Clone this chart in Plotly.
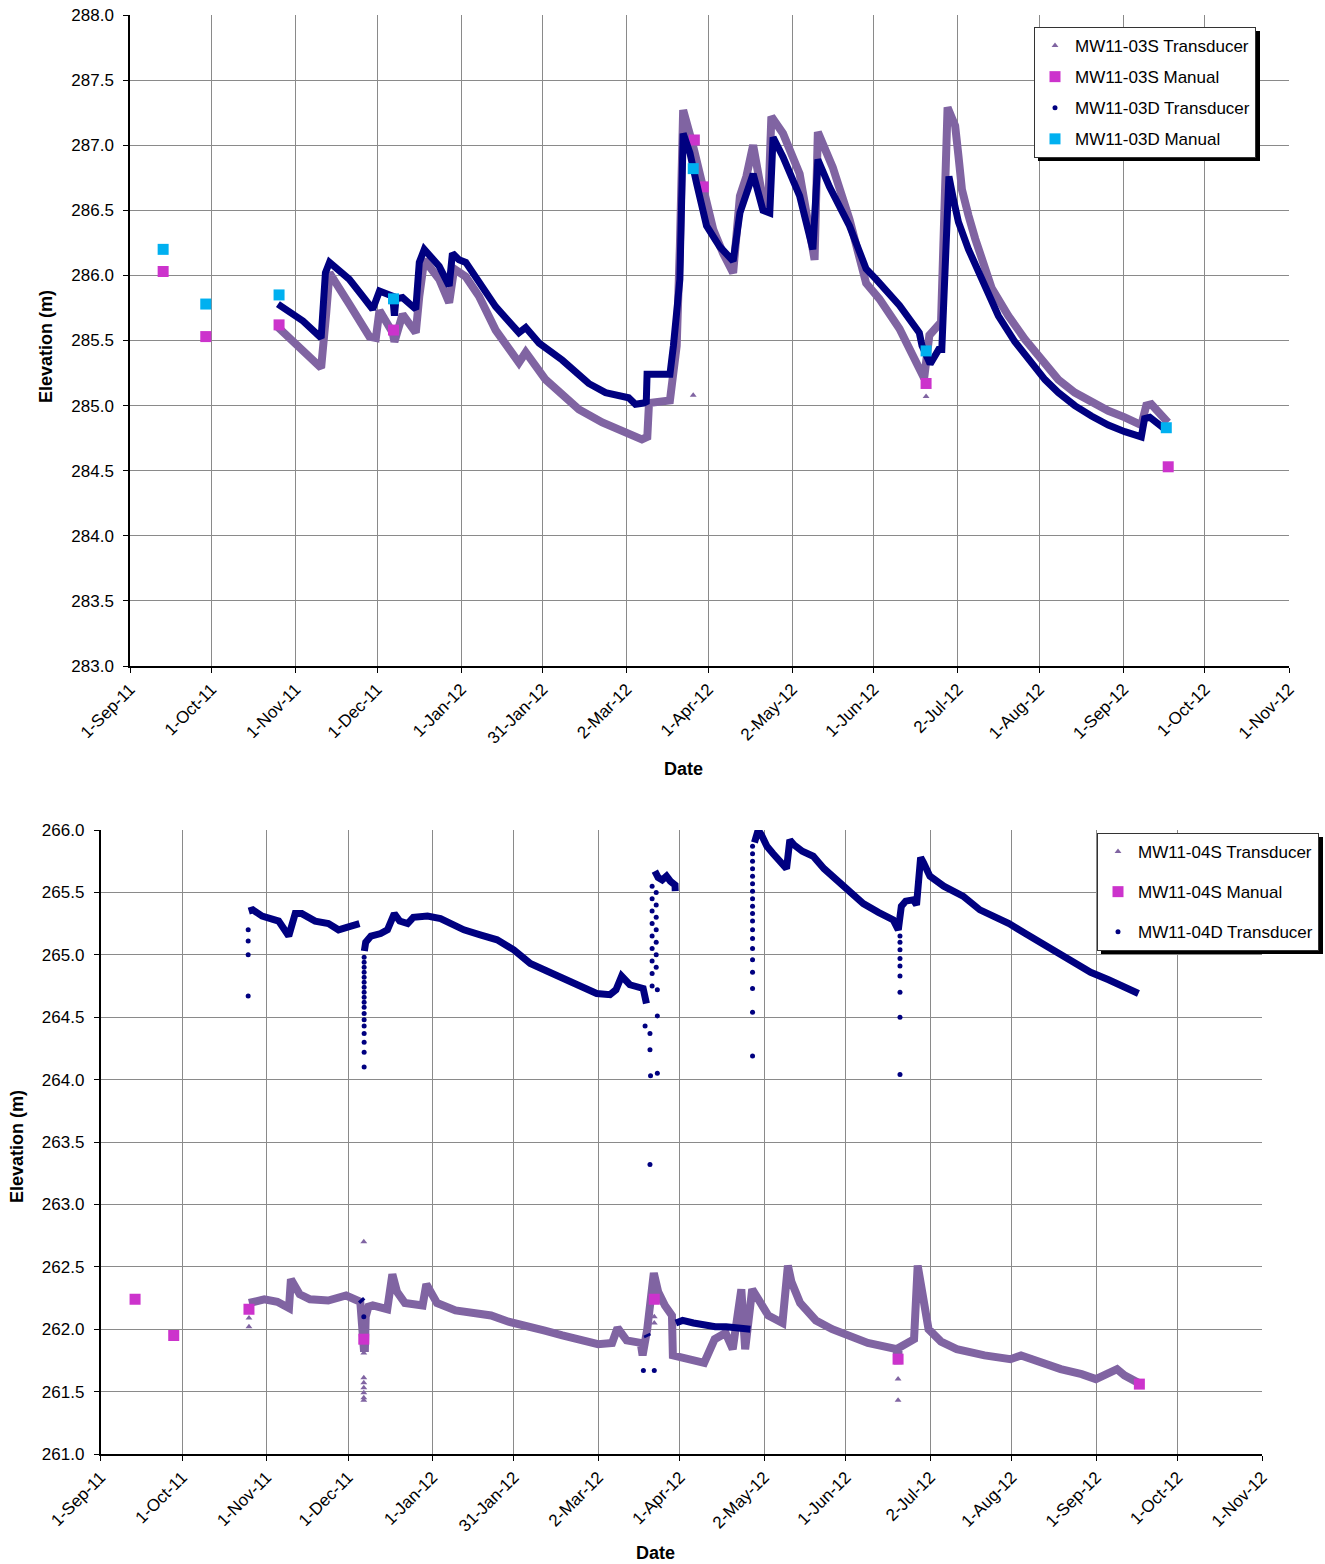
import plotly.graph_objects as go

FONT = "Liberation Sans, Arial, sans-serif"

# ---------------- shared axis ticks ----------------
tick_dates = ["2011-09-01", "2011-10-01", "2011-11-01", "2011-12-01", "2012-01-01",
              "2012-01-31", "2012-03-02", "2012-04-01", "2012-05-02", "2012-06-01",
              "2012-07-02", "2012-08-01", "2012-09-01", "2012-10-01", "2012-11-01"]
tick_labels = ["1-Sep-11", "1-Oct-11", "1-Nov-11", "1-Dec-11", "1-Jan-12",
               "31-Jan-12", "2-Mar-12", "1-Apr-12", "2-May-12", "1-Jun-12",
               "2-Jul-12", "1-Aug-12", "1-Sep-12", "1-Oct-12", "1-Nov-12"]

# ---------------- MW11-03 (top) ----------------
s03_dates = ["2011-10-25 02:00", "2011-11-03 17:00", "2011-11-10 10:00", "2011-11-12 07:00",
             "2011-11-13 12:00", "2011-11-20 19:00", "2011-11-28 05:00", "2011-11-30 14:00",
             "2011-12-01 22:00", "2011-12-06 19:00", "2011-12-07 10:00", "2011-12-10 10:00",
             "2011-12-15 07:00", "2011-12-16 14:00", "2011-12-18 10:00", "2011-12-23 22:00",
             "2011-12-27 14:00", "2011-12-29 10:00", "2012-01-02 17:00", "2012-01-07 14:00",
             "2012-01-13 17:00", "2012-01-22 07:00", "2012-01-24 19:00", "2012-02-01 02:00",
             "2012-02-13 10:00", "2012-02-22 00:00", "2012-03-02 17:00", "2012-03-07 14:00",
             "2012-03-09 14:00", "2012-03-10 05:00", "2012-03-17 22:00", "2012-03-20 10:00",
             "2012-03-21 14:00", "2012-03-22 19:00", "2012-03-26 12:00", "2012-03-30 05:00",
             "2012-04-02 22:00", "2012-04-06 12:00", "2012-04-10 05:00", "2012-04-12 17:00",
             "2012-04-15 02:00", "2012-04-17 14:00", "2012-04-21 05:00", "2012-04-23 02:00",
             "2012-04-24 07:00", "2012-04-28 14:00", "2012-05-04 17:00", "2012-05-10 05:00",
             "2012-05-11 10:00", "2012-05-16 22:00", "2012-05-23 02:00", "2012-05-29 05:00",
             "2012-06-03 02:00", "2012-06-10 12:00", "2012-06-16 14:00", "2012-06-19 14:00",
             "2012-06-21 12:00", "2012-06-23 22:00", "2012-06-25 19:00", "2012-06-28 05:00",
             "2012-07-01 00:00", "2012-07-02 05:00", "2012-07-03 12:00", "2012-07-05 22:00",
             "2012-07-08 10:00", "2012-07-14 12:00", "2012-07-20 14:00", "2012-07-26 17:00",
             "2012-08-03 02:00", "2012-08-08 00:00", "2012-08-14 02:00", "2012-08-20 05:00",
             "2012-08-26 10:00", "2012-09-01 12:00", "2012-09-07 14:00", "2012-09-09 10:00",
             "2012-09-11 07:00", "2012-09-17 10:00"]
s03_elev = [285.61, 285.43, 285.29, 285.71, 286.02, 285.78, 285.53, 285.52,
            285.73, 285.56, 285.49, 285.70, 285.56, 285.84, 286.12, 285.97,
            285.79, 286.05, 285.99, 285.84, 285.58, 285.33, 285.41, 285.20,
            284.97, 284.87, 284.79, 284.74, 284.76, 285.02, 285.04, 285.46,
            286.22, 287.27, 286.99, 286.66, 286.35, 286.17, 286.02, 286.61,
            286.76, 287.00, 286.58, 286.50, 287.22, 287.09, 286.78, 286.12,
            287.10, 286.83, 286.43, 285.94, 285.82, 285.59, 285.33, 285.21,
            285.54, 285.59, 285.64, 287.29,
            287.15, 286.92, 286.66, 286.46,
            286.28, 285.90, 285.69, 285.51,
            285.31, 285.20, 285.10, 285.03,
            284.96, 284.91, 284.85, 285.00,
            285.01, 284.87]
s03_spike_dates = ["2012-03-26 12:00", "2012-06-20 07:00"]
s03_spike_elev = [285.08, 285.07]

s03_manual_dates = ["2011-09-13 05:00", "2011-09-28 22:00", "2011-10-25 22:00", "2011-12-07 02:00",
                    "2012-03-26 22:00", "2012-03-30 05:00", "2012-06-20 07:00", "2012-09-17 12:00"]
s03_manual_elev = [286.03, 285.53, 285.62, 285.58, 287.04, 286.68, 285.17, 284.53]

d03_dates = ["2011-10-25 12:00", "2011-11-03 17:00", "2011-11-10 10:00", "2011-11-12 00:00",
             "2011-11-13 12:00", "2011-11-20 19:00", "2011-11-25 17:00", "2011-11-29 10:00",
             "2011-12-01 22:00", "2011-12-06 19:00", "2011-12-07 10:00", "2011-12-08 00:00",
             "2011-12-10 10:00", "2011-12-15 07:00", "2011-12-16 14:00", "2011-12-18 10:00",
             "2011-12-23 22:00", "2011-12-27 14:00", "2011-12-28 19:00", "2011-12-31 05:00",
             "2012-01-02 17:00", "2012-01-07 14:00", "2012-01-13 17:00", "2012-01-22 07:00",
             "2012-01-24 19:00", "2012-01-29 17:00", "2012-02-07 05:00", "2012-02-17 00:00",
             "2012-02-23 05:00", "2012-03-02 17:00", "2012-03-05 05:00", "2012-03-08 05:00",
             "2012-03-09 05:00", "2012-03-09 12:00", "2012-03-17 22:00", "2012-03-19 05:00",
             "2012-03-21 14:00", "2012-03-22 19:00", "2012-03-25 07:00", "2012-03-27 17:00",
             "2012-03-31 10:00", "2012-04-05 07:00", "2012-04-10 05:00", "2012-04-12 17:00",
             "2012-04-13 22:00", "2012-04-17 14:00", "2012-04-21 05:00", "2012-04-23 17:00",
             "2012-04-24 22:00", "2012-04-28 14:00", "2012-05-04 17:00", "2012-05-09 14:00",
             "2012-05-11 10:00", "2012-05-15 17:00", "2012-05-23 02:00", "2012-05-29 05:00",
             "2012-06-01 22:00", "2012-06-10 12:00", "2012-06-17 19:00", "2012-06-18 19:00",
             "2012-06-21 19:00", "2012-06-24 22:00", "2012-06-26 02:00", "2012-06-28 17:00",
             "2012-06-30 10:00", "2012-07-02 05:00", "2012-07-05 22:00", "2012-07-10 19:00",
             "2012-07-16 22:00", "2012-07-23 00:00", "2012-07-29 05:00", "2012-08-03 02:00",
             "2012-08-08 00:00", "2012-08-14 02:00", "2012-08-20 05:00", "2012-08-26 10:00",
             "2012-09-01 12:00", "2012-09-07 14:00",
             "2012-09-08 19:00", "2012-09-10 17:00", "2012-09-16 05:00"]
d03_elev = [285.78, 285.65, 285.52, 286.02, 286.10, 285.97, 285.84, 285.74,
            285.88, 285.84, 285.69, 285.82, 285.83, 285.74, 286.10, 286.20,
            286.07, 285.92, 286.17, 286.12, 286.10, 285.94, 285.76, 285.56,
            285.60, 285.48, 285.35, 285.17, 285.10, 285.06, 285.01, 285.02,
            285.03, 285.24, 285.24, 285.46, 285.97, 287.09, 286.94, 286.71,
            286.38, 286.22, 286.11, 286.48, 286.55, 286.78, 286.50, 286.48,
            287.06, 286.91, 286.61, 286.20, 286.89, 286.68, 286.38, 286.05,
            285.97, 285.77, 285.56, 285.46, 285.32, 285.43, 285.43, 286.76,
            286.58, 286.41, 286.20, 285.97,
            285.69, 285.49, 285.33, 285.20,
            285.10, 285.00, 284.92, 284.85,
            284.80, 284.76,
            284.90, 284.91, 284.82]

d03_manual_dates = ["2011-09-13 05:00", "2011-09-28 22:00", "2011-10-25 22:00", "2011-12-07 02:00",
                    "2012-03-26 12:00", "2012-06-20 07:00", "2012-09-16 19:00"]
d03_manual_elev = [286.20, 285.78, 285.85, 285.82, 286.82, 285.42, 284.83]

# ---------------- MW11-04 (bottom) ----------------
s04_dates = ["2011-10-25 14:00", "2011-10-31 05:00", "2011-11-05 00:00", "2011-11-09 07:00",
             "2011-11-10 00:00", "2011-11-13 05:00", "2011-11-17 00:00", "2011-11-23 17:00",
             "2011-11-30 07:00", "2011-12-05 12:00", "2011-12-06 19:00", "2011-12-07 05:00",
             "2011-12-07 12:00", "2011-12-08 12:00", "2011-12-10 02:00", "2011-12-15 10:00",
             "2011-12-17 07:00", "2011-12-19 00:00", "2011-12-21 22:00", "2011-12-28 10:00",
             "2011-12-29 19:00", "2012-01-02 17:00", "2012-01-09 12:00", "2012-01-16 00:00",
             "2012-01-22 14:00", "2012-01-29 00:00", "2012-02-04 17:00", "2012-02-11 00:00",
             "2012-02-17 19:00", "2012-02-24 00:00", "2012-03-01 22:00", "2012-03-07 02:00",
             "2012-03-09 02:00", "2012-03-12 10:00", "2012-03-17 14:00", "2012-03-18 07:00",
             "2012-03-20 00:00", "2012-03-22 10:00", "2012-03-24 00:00", "2012-03-26 12:00",
             "2012-03-29 02:00", "2012-03-29 10:00", "2012-04-04 17:00", "2012-04-09 22:00",
             "2012-04-13 19:00", "2012-04-17 19:00", "2012-04-20 10:00", "2012-04-23 14:00",
             "2012-04-25 00:00", "2012-04-27 14:00", "2012-05-03 12:00", "2012-05-08 17:00",
             "2012-05-10 17:00", "2012-05-12 00:00", "2012-05-15 05:00", "2012-05-21 00:00",
             "2012-05-27 00:00", "2012-06-02 00:00", "2012-06-09 02:00", "2012-06-19 14:00",
             "2012-06-20 05:00", "2012-06-20 10:00", "2012-06-23 00:00", "2012-06-26 02:00",
             "2012-06-27 10:00", "2012-06-28 12:00", "2012-07-01 10:00", "2012-07-06 00:00",
             "2012-07-11 19:00", "2012-07-22 00:00", "2012-07-31 12:00", "2012-08-04 10:00",
             "2012-08-12 07:00", "2012-08-19 00:00", "2012-08-26 17:00", "2012-08-31 22:00",
             "2012-09-08 17:00", "2012-09-11 10:00", "2012-09-16 14:00"]
s04_elev = [262.21, 262.24, 262.22, 262.17, 262.40, 262.28, 262.24, 262.23,
            262.27, 262.22, 261.85, 261.85, 262.10, 262.18, 262.19, 262.16,
            262.44, 262.30, 262.21, 262.19, 262.36, 262.21, 262.15, 262.13,
            262.11, 262.06, 262.03, 261.99, 261.95, 261.92, 261.88, 261.89,
            262.01, 261.91, 261.89, 261.79, 262.00, 262.45, 262.30, 262.19,
            262.11, 261.79, 261.76, 261.73, 261.92, 261.97, 261.84, 262.32,
            261.84, 262.32, 262.11, 262.05, 262.51, 262.38, 262.21, 262.07,
            262.00, 261.95, 261.89, 261.84, 261.72, 261.85, 261.89, 261.92,
            262.51, 262.35, 262.00, 261.90, 261.84, 261.79, 261.76, 261.79,
            261.73, 261.68, 261.64, 261.60, 261.68, 261.63, 261.57]
s04_spike_dates = ["2011-10-25 14:00", "2011-10-25 14:00",
                   "2011-12-06 19:00", "2011-12-06 19:00", "2011-12-06 19:00", "2011-12-06 19:00",
                   "2011-12-06 19:00", "2011-12-06 19:00", "2011-12-06 19:00", "2011-12-06 19:00",
                   "2011-12-06 19:00",
                   "2012-03-22 14:00", "2012-03-22 14:00",
                   "2012-06-20 05:00", "2012-06-20 05:00"]
s04_spike_elev = [262.09, 262.02,
                  262.70, 262.02, 261.81, 261.61, 261.57, 261.53, 261.49, 261.45, 261.43,
                  262.05, 262.10,
                  261.60, 261.43]

s04_manual_dates = ["2011-09-13 17:00", "2011-09-27 22:00", "2011-10-25 14:00", "2011-12-06 19:00",
                    "2012-03-22 14:00", "2012-06-20 05:00", "2012-09-16 22:00"]
s04_manual_elev = [262.24, 261.95, 262.16, 261.92, 262.24, 261.76, 261.56]

# None entries mark gaps between logged segments
d04_dates = ["2011-10-25 12:00", "2011-10-27 00:00", "2011-10-30 10:00", "2011-11-05 12:00",
             "2011-11-09 05:00", "2011-11-11 14:00", "2011-11-14 00:00", "2011-11-18 22:00",
             "2011-11-23 19:00", "2011-11-27 12:00", "2011-12-02 02:00", "2011-12-05 05:00",
             "2011-12-05 09:00",
             "2011-12-05 14:00", "2011-12-06 10:00",
             "2011-12-06 14:00",
             "2011-12-07 00:00", "2011-12-07 12:00", "2011-12-09 10:00", "2011-12-13 00:00",
             "2011-12-15 12:00", "2011-12-18 00:00", "2011-12-20 00:00", "2011-12-22 22:00",
             "2011-12-25 00:00", "2011-12-30 05:00", "2012-01-04 00:00", "2012-01-12 14:00",
             "2012-01-18 14:00", "2012-01-24 19:00", "2012-01-30 22:00", "2012-02-06 00:00",
             "2012-02-12 02:00", "2012-02-18 05:00", "2012-02-24 07:00", "2012-03-01 10:00",
             "2012-03-06 07:00", "2012-03-08 12:00", "2012-03-10 14:00", "2012-03-13 14:00",
             "2012-03-18 12:00", "2012-03-19 17:00",
             "2012-03-19 18:00",
             "2012-03-19 19:00", "2012-03-20 05:00",
             "2012-03-20 06:00",
             "2012-03-22 19:00", "2012-03-24 00:00", "2012-03-25 12:00", "2012-03-27 02:00",
             "2012-03-28 12:00", "2012-03-30 05:00", "2012-03-30 07:00",
             "2012-03-30 09:00",
             "2012-03-30 12:00", "2012-04-02 00:00", "2012-04-06 00:00", "2012-04-10 00:00",
             "2012-04-14 00:00", "2012-04-18 00:00", "2012-04-22 00:00", "2012-04-26 22:00",
             "2012-04-27 00:00",
             "2012-04-28 10:00", "2012-04-29 19:00", "2012-05-01 00:00", "2012-05-03 00:00",
             "2012-05-05 07:00", "2012-05-08 00:00", "2012-05-10 05:00", "2012-05-11 10:00",
             "2012-05-13 00:00", "2012-05-16 00:00", "2012-05-20 00:00", "2012-05-24 00:00",
             "2012-05-29 19:00", "2012-06-03 00:00", "2012-06-07 10:00", "2012-06-13 00:00",
             "2012-06-18 10:00", "2012-06-20 07:00", "2012-06-21 10:00", "2012-06-23 00:00",
             "2012-06-25 19:00", "2012-06-27 00:00", "2012-06-28 12:00", "2012-06-29 12:00",
             "2012-07-01 22:00", "2012-07-07 00:00", "2012-07-14 02:00", "2012-07-20 07:00",
             "2012-07-25 00:00", "2012-07-31 00:00", "2012-08-06 00:00", "2012-08-12 05:00",
             "2012-08-18 00:00", "2012-08-24 10:00", "2012-08-30 00:00", "2012-09-05 14:00",
             "2012-09-11 00:00", "2012-09-16 14:00"]
d04_elev = [265.35, 265.36, 265.31, 265.27, 265.15, 265.33, 265.33, 265.27,
            265.25, 265.20, 265.23, 265.25,
            None,
            262.24, 262.22,
            None,
            265.03, 265.10, 265.15, 265.17, 265.20, 265.33, 265.27, 265.25,
            265.30, 265.31, 265.29, 265.20, 265.16, 265.12, 265.04, 264.93,
            264.87, 264.81, 264.76, 264.69, 264.68, 264.72, 264.83, 264.76,
            264.73, 264.61,
            None,
            261.96, 261.94,
            None,
            265.67, 265.62, 265.60, 265.63, 265.59, 265.56, 265.51,
            None,
            262.05, 262.07, 262.05, 262.03, 262.02, 262.02, 262.01, 262.00,
            None,
            265.90, 266.00, 265.96, 265.87, 265.81, 265.74, 265.69, 265.92,
            265.88, 265.83, 265.79, 265.69, 265.57, 265.49, 265.41, 265.34,
            265.28, 265.20, 265.39, 265.43, 265.44, 265.40, 265.78, 265.74,
            265.63, 265.55, 265.47, 265.36, 265.31, 265.25, 265.17, 265.09,
            265.01, 264.93, 264.86, 264.80, 264.75, 264.69]
d04_spike_dates = (["2011-10-25 07:00"] * 4
                   + ["2011-12-06 22:00"] * 18
                   + ["2011-12-06 19:00"]
                   + ["2012-03-18 14:00", "2012-03-22 14:00"]
                   + ["2012-03-19 05:00", "2012-03-21 00:00", "2012-03-21 00:00", "2012-03-21 05:00",
                      "2012-03-21 00:00", "2012-03-23 17:00", "2012-03-23 17:00", "2012-03-23 17:00"]
                   + ["2012-03-21 19:00"] * 9
                   + ["2012-03-23 07:00"] * 7
                   + ["2012-04-27 17:00"] * 19
                   + ["2012-06-20 22:00"] * 9)
d04_spike_elev = ([264.67, 265.00, 265.11, 265.20]
                  + [264.10, 264.22, 264.30, 264.37, 264.43, 264.48, 264.53, 264.58, 264.62,
                     264.66, 264.70, 264.74, 264.78, 264.82, 264.86, 264.90, 264.94, 264.98]
                  + [262.10]
                  + [261.67, 261.67]
                  + [264.43, 264.37, 264.24, 264.03, 263.32, 264.05, 264.51, 264.72]
                  + [264.75, 264.85, 264.95, 265.05, 265.15, 265.25, 265.35, 265.45, 265.55]
                  + [264.90, 265.00, 265.10, 265.20, 265.30, 265.40, 265.50]
                  + [264.19, 264.54, 264.73, 264.86, 264.96, 265.05, 265.13, 265.20, 265.27,
                     265.33, 265.39, 265.45, 265.51, 265.57, 265.63, 265.69, 265.75, 265.81, 265.87]
                  + [264.04, 264.50, 264.70, 264.83, 264.91, 264.97, 265.04, 265.10, 265.15])

# ---------------- styles ----------------
PURPLE = "#8064A2"
NAVY = "#000080"
MAGENTA = "#CC33CC"
CYAN = "#00B0F0"

fig = go.Figure()


def add_set(xa, ya, leg, names, s_line, s_spk, s_man, d_line, d_spk, d_man):
    fig.add_trace(go.Scatter(x=s_line[0], y=s_line[1], mode="lines", xaxis=xa, yaxis=ya,
                             line=dict(color=PURPLE, width=8), legendgroup=names[0] + leg,
                             showlegend=False, hoverinfo="skip"))
    fig.add_trace(go.Scatter(x=s_spk[0], y=s_spk[1], mode="markers", xaxis=xa, yaxis=ya,
                             marker=dict(symbol="triangle-up", size=6, color=PURPLE),
                             name=names[0], legendgroup=names[0] + leg, legend=leg))
    fig.add_trace(go.Scatter(x=s_man[0], y=s_man[1], mode="markers", xaxis=xa, yaxis=ya,
                             marker=dict(symbol="square", size=11, color=MAGENTA),
                             name=names[1], legendgroup=names[1] + leg, legend=leg))
    fig.add_trace(go.Scatter(x=d_line[0], y=d_line[1], mode="lines", xaxis=xa, yaxis=ya,
                             line=dict(color=NAVY, width=7), connectgaps=False,
                             legendgroup=names[2] + leg, showlegend=False, hoverinfo="skip"))
    fig.add_trace(go.Scatter(x=d_spk[0], y=d_spk[1], mode="markers", xaxis=xa, yaxis=ya,
                             marker=dict(symbol="circle", size=5, color=NAVY),
                             name=names[2], legendgroup=names[2] + leg, legend=leg))
    if d_man is not None:
        fig.add_trace(go.Scatter(x=d_man[0], y=d_man[1], mode="markers", xaxis=xa, yaxis=ya,
                                 marker=dict(symbol="square", size=11, color=CYAN),
                                 name=names[3], legendgroup=names[3] + leg, legend=leg))


add_set("x", "y", "legend",
        ["MW11-03S Transducer", "MW11-03S Manual", "MW11-03D Transducer", "MW11-03D Manual"],
        (s03_dates, s03_elev), (s03_spike_dates, s03_spike_elev),
        (s03_manual_dates, s03_manual_elev),
        (d03_dates, d03_elev), ([None], [None]),
        (d03_manual_dates, d03_manual_elev))

add_set("x2", "y2", "legend2",
        ["MW11-04S Transducer", "MW11-04S Manual", "MW11-04D Transducer"],
        (s04_dates, s04_elev), (s04_spike_dates, s04_spike_elev),
        (s04_manual_dates, s04_manual_elev),
        (d04_dates, d04_elev), (d04_spike_dates, d04_spike_elev),
        None)

W, H = 1325, 1564
tickfont = dict(family=FONT, size=17, color="#000")


def xax(dom, anchor):
    return dict(domain=dom, anchor=anchor, type="date", automargin=False,
                range=["2011-09-01", "2012-11-01"],
                tickmode="array", tickvals=tick_dates, ticktext=tick_labels,
                tickangle=-45, tickfont=tickfont,
                showgrid=True, gridcolor="#8a8a8a", gridwidth=1,
                showline=True, linecolor="#000", linewidth=1.5,
                ticks="outside", ticklen=5, tickcolor="#000", zeroline=False)


def yax(dom, anchor, rng):
    return dict(domain=dom, anchor=anchor, range=rng, dtick=0.5, tick0=rng[0],
                automargin=False, tickformat=".1f", tickfont=tickfont,
                ticklabelstandoff=6,
                showgrid=True, gridcolor="#8a8a8a", gridwidth=1,
                showline=True, linecolor="#000", linewidth=1.5,
                ticks="outside", ticklen=5, tickcolor="#000", zeroline=False)


top_x = [130 / W, 1289 / W]
top_y = [1 - 666 / H, 1 - 15 / H]
bot_x = [100.5 / W, 1262 / W]
bot_y = [1 - 1454 / H, 1 - 830 / H]

legfont = dict(family=FONT, size=17, color="#000")


def title(text, x, y, angle=0):
    return dict(text="<b>%s</b>" % text, x=x / W, y=1 - y / H, xref="paper", yref="paper",
                xanchor="center", yanchor="middle", showarrow=False, textangle=angle,
                font=dict(family=FONT, size=18, color="#000"))


fig.update_layout(
    width=W, height=H,
    margin=dict(l=0, r=0, t=0, b=0, autoexpand=False),
    paper_bgcolor="white", plot_bgcolor="white",
    font=dict(family=FONT, color="#000"),
    xaxis=xax(top_x, "y"), yaxis=yax(top_y, "x", [283, 288]),
    xaxis2=xax(bot_x, "y2"), yaxis2=yax(bot_y, "x2", [261, 266]),
    legend=dict(x=1034 / W, y=1 - 27 / H, xanchor="left", yanchor="top",
                bgcolor="white", bordercolor="#333", borderwidth=1,
                font=legfont, traceorder="grouped", tracegroupgap=6),
    legend2=dict(x=1097 / W, y=1 - 833 / H, xanchor="left", yanchor="top",
                 bgcolor="white", bordercolor="#333", borderwidth=1,
                 font=legfont, traceorder="grouped", tracegroupgap=15),
    showlegend=True,
    annotations=[
        title("Date", 683, 769),
        title("Elevation (m)", 46, 347, -90),
        title("Date", 655, 1553),
        title("Elevation (m)", 17, 1147, -90),
    ],
    shapes=[
        dict(type="rect", xref="paper", yref="paper", layer="above",
             x0=1038 / W, x1=1260 / W, y0=1 - 161 / H, y1=1 - 31 / H,
             fillcolor="#000", line=dict(width=0)),
        dict(type="rect", xref="paper", yref="paper", layer="above",
             x0=1101 / W, x1=1323 / W, y0=1 - 954 / H, y1=1 - 837 / H,
             fillcolor="#000", line=dict(width=0)),
    ],
)

fig.write_html("out.html")
